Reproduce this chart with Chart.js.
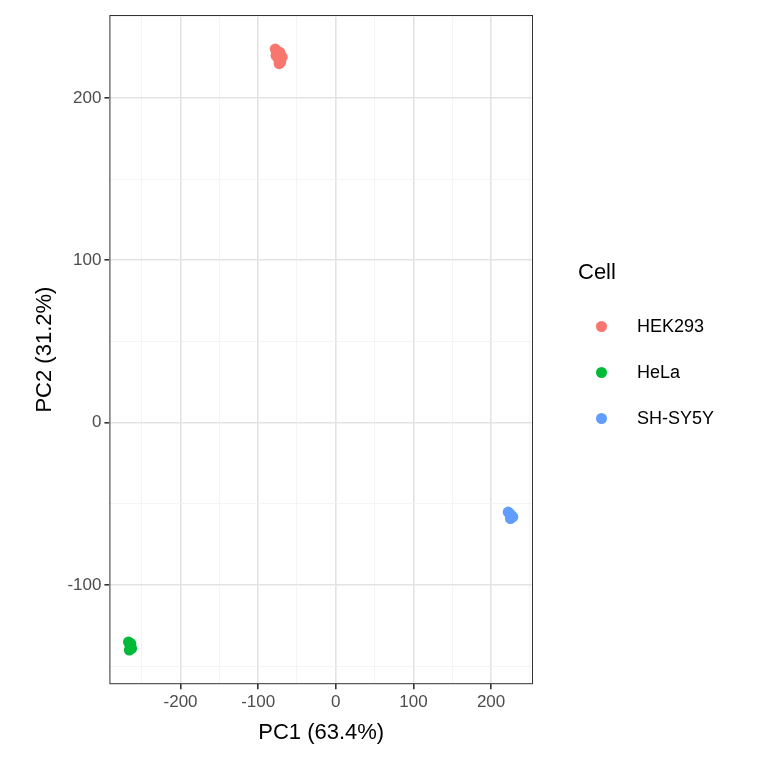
<!DOCTYPE html>
<html>
<head>
<meta charset="utf-8">
<script src="https://cdn.jsdelivr.net/npm/chart.js@4"></script>
<style>
  body{margin:0;background:#fff;font-family:"Liberation Sans",Arial,sans-serif;}
  #wrap{position:relative;width:768px;height:768px;}
  #legend{position:absolute;left:578px;top:259px;color:#000;}
  #legend .title{font-size:22px;margin-bottom:18px;}
  #legend .item{display:flex;align-items:center;height:46px;font-size:18px;}
  #legend .dot{width:11px;height:11px;border-radius:50%;margin:0 30px 0 18px;}
</style>
</head>
<body>
<div id="wrap">
<canvas id="pca" width="768" height="768"></canvas>
<div id="legend"></div>
</div>
<script>

/* ---------- data ---------- */

const cellTypes = ["HEK293", "HeLa", "SH-SY5Y"];
const cellColors = ["#F8766D", "#00BA38", "#619CFF"];

const hekPC1 = [-78, -76, -74, -71, -69, -73, -77, -72];
const hekPC2 = [230, 227, 224, 222, 225, 221, 226, 228];

const helaPC1 = [-267, -265, -263, -266, -264];
const helaPC2 = [-135, -137, -139, -140, -136];

const shPC1 = [222, 224, 226, 228, 225];
const shPC2 = [-55, -56, -57, -58, -59];

const xTicks = [-250, -200, -150, -100, -50, 0, 50, 100, 150, 200, 250];
const yTicks = [-150, -100, -50, 0, 50, 100, 150, 200, 250];

/* ---------- helpers ---------- */

function toPoints(xs, ys){
    return xs.map((x, i) => ({ x: x, y: ys[i] }));
}

const seriesX = [hekPC1, helaPC1, shPC1];
const seriesY = [hekPC2, helaPC2, shPC2];

const datasets = cellTypes.map((name, i) => ({
    label: name,
    data: toPoints(seriesX[i], seriesY[i]),
    backgroundColor: cellColors[i],
    borderColor: cellColors[i],
    pointRadius: 5.5,
    borderWidth: 0
}));

function isMajor(ctx){
    return ctx.tick && ctx.tick.value % 100 === 0;
}

const gridOpts = {
    color: c => (isMajor(c) ? "#e3e3e3" : "#f1f1f1"),
    lineWidth: c => (isMajor(c) ? 1.6 : 0.8),
    tickLength: 5,
    tickColor: c => (isMajor(c) ? "#333333" : "rgba(0,0,0,0)")
};

const panelBorder = {
    id: "panelBorder",
    afterDraw(chart){
        const a = chart.chartArea;
        const c = chart.ctx;
        c.save();
        c.strokeStyle = "#333333";
        c.lineWidth = 1;
        c.strokeRect(a.left + 0.5, a.top + 0.5, a.right - a.left - 1, a.bottom - a.top - 1);
        c.restore();
    }
};

/* ---------- chart ---------- */

new Chart(document.getElementById("pca").getContext("2d"), {
    type: "scatter",
    data: { datasets: datasets },
    options: {
        responsive: false,
        animation: false,
        layout: { padding: { top: 15, right: 235, left: 28, bottom: 18 } },
        plugins: { legend: { display: false }, tooltip: { enabled: false } },
        scales: {
            x: {
                min: -291.6,
                max: 254,
                afterBuildTicks(scale){ scale.ticks = xTicks.map(v => ({ value: v })); },
                grid: gridOpts,
                border: { display: false },
                ticks: {
                    autoSkip: false,
                    maxRotation: 0,
                    color: "#4d4d4d",
                    font: { size: 17, family: "Liberation Sans" },
                    callback: v => (v % 100 === 0 ? v : "")
                },
                title: { display: true, text: "PC1 (63.4%)", color: "#000", font: { size: 22, family: "Liberation Sans" }, padding: { top: 4 } }
            },
            y: {
                min: -161,
                max: 251,
                afterBuildTicks(scale){ scale.ticks = yTicks.map(v => ({ value: v })); },
                grid: gridOpts,
                border: { display: false },
                ticks: {
                    autoSkip: false,
                    color: "#4d4d4d",
                    font: { size: 17, family: "Liberation Sans" },
                    callback: v => (v % 100 === 0 ? v : "")
                },
                title: { display: true, text: "PC2 (31.2%)", color: "#000", font: { size: 22, family: "Liberation Sans" }, padding: { bottom: 6 } }
            }
        }
    },
    plugins: [panelBorder]
});

/* ---------- legend ---------- */

const legend = document.getElementById("legend");
legend.innerHTML = '<div class="title">Cell</div>' +
    cellTypes.map((name, i) =>
        '<div class="item"><span class="dot" style="background:' + cellColors[i] + '"></span>' + name + '</div>'
    ).join("");

</script>
</body>
</html>
